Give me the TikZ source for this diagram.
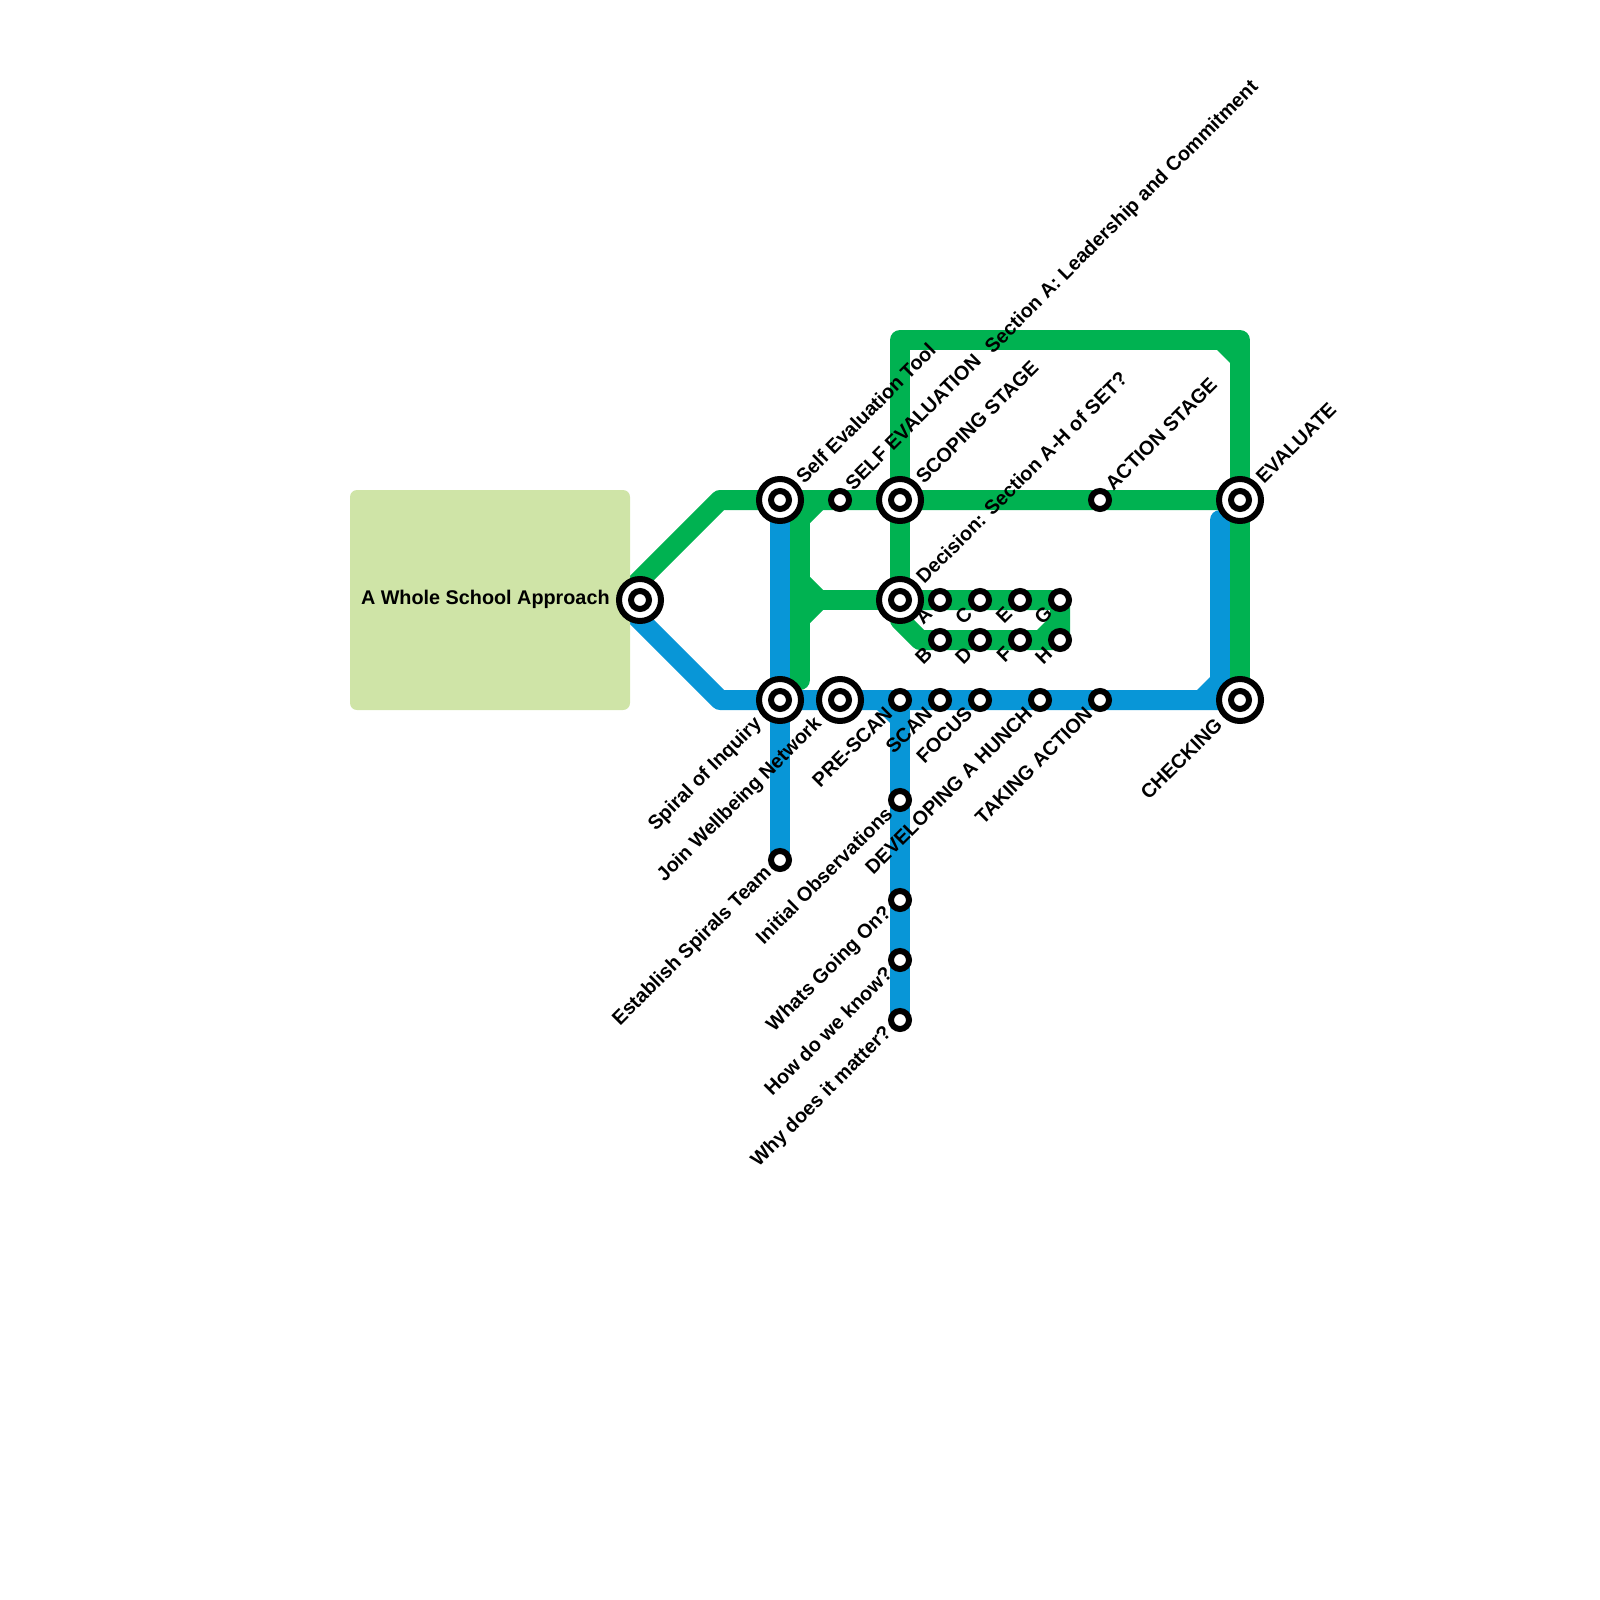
\documentclass[tikz,border=0pt]{standalone}
\usepackage{fontspec}
\setmainfont{Liberation Sans}
\definecolor{lgreen}{HTML}{00B251}
\definecolor{lblue}{HTML}{0896D7}
\definecolor{lbox}{HTML}{CFE4A7}
\tikzset{
  x=0.5pt,y=-0.5pt,
  gline/.style={draw=lgreen,line width=10pt,line join=round},
  bline/.style={draw=lblue,line width=10pt,line join=round},
  gfil/.style={fill=lgreen},
  bfil/.style={fill=lblue},
  bigst/.style={circle,draw=black,fill=white,line width=3pt,minimum size=21pt,inner sep=0pt,outer sep=0pt,path picture={\draw[black,line width=3pt] (path picture bounding box.center) circle (4.5pt);}},
  smallst/.style={circle,draw=black,fill=white,line width=3pt,minimum size=9pt,inner sep=0pt,outer sep=0pt},
  txt/.style={inner sep=0pt,font=\bfseries\fontsize{9.9}{11}\selectfont},
  upl/.style={txt,rotate=45,anchor=west},
  dnl/.style={txt,rotate=45,anchor=east},
}
\begin{document}
\begin{tikzpicture}
\useasboundingbox (0,0) rectangle (1600,1600);
% station positions
\foreach \n/\x/\y in {s1/640/600,s2/780/500,s3/900/500,s4/1240/500,s5/900/600,s6/780/700,s7/840/700,s8/1240/700,
  a/940/600,c/980/600,e/1020/600,g/1060/600,b/940/640,d/980/640,f/1020/640,h/1060/640,
  t1/840/500,t2/1100/500,u1/900/700,u2/940/700,u3/980/700,u4/1040/700,u5/1100/700,v1/780/860,v2/900/800,v3/900/900,v4/900/960,v5/900/1020,
  start/620/600,gtl/720/500,btl/720/700,gj/800/500,gb/800/680,gm/800/600,tl/900/340,tr/1240/340,bs/1220/520,bc/1220/700,dg/920/640,dh/900/620}
  \coordinate (\n) at (\x,\y);
% lines
\draw[bline] (start) -- (btl) -- (s8);
\draw[bline,line cap=round] (bs) -- (bc);
\draw[bline] (s2) -- (v1);
\draw[bline] (u1) -- (v5);
\fill[bfil] (1197,690) -- (1210,690) -- (1210,677) -- cycle;
\fill[bfil] (877,710) -- (890,710) -- (890,723) -- cycle;
\draw[gline] (start) -- (gtl) -- (s4);
\draw[gline,line cap=round] (gj) -- (gb);
\draw[gline] (gm) -- (s5);
\draw[gline] (s5) -- (tl) -- (tr) -- (s8);
\draw[gline] (s5) -- (g) -- (h) -- (dg) -- (dh) -- (s5);
\fill[gfil] (810,510) -- (823,510) -- (810,523) -- cycle;
\fill[gfil] (810,577) -- (810,590) -- (823,590) -- cycle;
\fill[gfil] (810,610) -- (823,610) -- (810,623) -- cycle;
\fill[gfil] (1217,350) -- (1230,350) -- (1230,363) -- cycle;
\fill[gfil] (1050,617) -- (1050,630) -- (1037,630) -- cycle;
% box
\fill[lbox,rounded corners=3.5pt] (350,490) rectangle (630,710);
\node[txt,anchor=east] (title) at (610,599.5) {A Whole School Approach};
% stations
\foreach \n in {s1,s2,s3,s4,s5,s6,s7,s8}
  \node[bigst] (N\n) at (\n) {};
\foreach \n in {a,c,e,g,b,d,f,h,t1,t2,u1,u2,u3,u4,u5,v1,v2,v3,v4,v5}
  \node[smallst] (N\n) at (\n) {};
% labels
\foreach \n/\t in {s2/Self Evaluation Tool,s3/SCOPING STAGE,s5/Decision: Section A-H of SET?,s4/EVALUATE}
  \node[upl] at ([xshift=9.5pt,yshift=10pt]\n) {\t};
\foreach \n/\t in {t1/SELF EVALUATION,t2/ACTION STAGE}
  \node[upl] at ([xshift=4.2pt,yshift=6.7pt]\n) {\t};
\node[upl] (secA) at (989,351) {Section A: Leadership and Commitment};
\foreach \n/\t in {s6/Spiral of Inquiry,s7/Join Wellbeing Network,s8/CHECKING}
  \node[dnl] at ([xshift=-10.5pt,yshift=-10.5pt]\n) {\t};
\foreach \n/\t in {u1/PRE-SCAN,u2/SCAN,u3/FOCUS,u4/DEVELOPING A HUNCH,u5/TAKING ACTION,v1/Establish Spirals Team,v2/Initial Observations,v3/Whats Going On?,v4/How do we know?,v5/Why does it matter?,a/A,c/C,e/E,g/G,b/B,d/D,f/F,h/H}
  \node[dnl] at ([xshift=-5.5pt,yshift=-5pt]\n) {\t};
\end{tikzpicture}
\end{document}
